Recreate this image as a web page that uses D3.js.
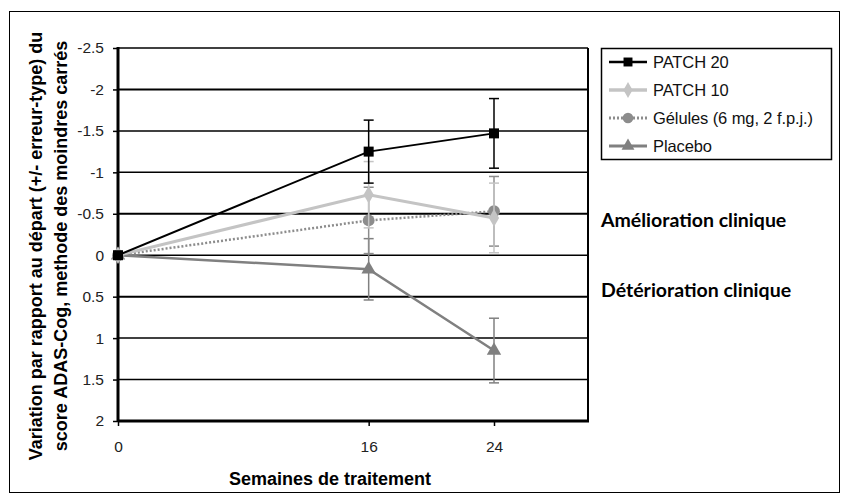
<!DOCTYPE html>
<meta charset="utf-8">
<script src="https://d3js.org/d3.v7.min.js"></script>
<style>
body { margin: 0; background: #fff; }
text { font-family: "Liberation Sans", Arial, sans-serif; }
</style>
<body>
<div id="chart"></div>
<script>
// data
var weeks = [0, 16, 24];
var patch20 = [0, -1.25, -1.47];
var patch20Err = [0, 0.38, 0.42];
var patch10 = [0, -0.73, -0.45];
var patch10Err = [0, 0.4, 0.42];
var gelules = [0, -0.42, -0.53];
var gelulesErr = [0, 0.4, 0.42];
var placebo = [0, 0.17, 1.15];
var placeboErr = [0, 0.37, 0.39];
var yTicks = [-2.5, -2, -1.5, -1, -0.5, 0, 0.5, 1, 1.5, 2];
var xTicks = [0, 16, 24];
var seriesNames = ["PATCH 20", "PATCH 10", "Gélules (6 mg, 2 f.p.j.)", "Placebo"];

var series = [
  {name: seriesNames[0], vals: patch20, err: patch20Err, color: "#000", width: 2, dash: null, mark: d3.symbolSquare, size: 100},
  {name: seriesNames[1], vals: patch10, err: patch10Err, color: "#c4c4c4", width: 3, dash: null, mark: d3.symbolDiamond, size: 90},
  {name: seriesNames[2], vals: gelules, err: gelulesErr, color: "#8c8c8c", width: 2.5, dash: "2,2", mark: d3.symbolCircle, size: 110},
  {name: seriesNames[3], vals: placebo, err: placeboErr, color: "#808080", width: 2.5, dash: null, mark: d3.symbolTriangle, size: 90}
];

var W = 842, H = 500;
var svg = d3.select("#chart").append("svg").attr("width", W).attr("height", H);

// outer frame
svg.append("rect").attr("x", 9.5).attr("y", 11.5).attr("width", 830).attr("height", 481)
  .attr("fill", "none").attr("stroke", "#000").attr("stroke-width", 1);

var pLeft = 118, pRight = 588, pTop = 48, pBottom = 421;
var x = d3.scaleLinear().domain([0, 30]).range([pLeft, pRight]);
var y = d3.scaleLinear().domain([-2.5, 2]).range([pTop, pBottom]);

// grid lines
svg.append("g").selectAll("line").data(yTicks).enter().append("line")
  .attr("x1", pLeft).attr("x2", pRight)
  .attr("y1", function(d) { return y(d); }).attr("y2", function(d) { return y(d); })
  .attr("stroke", "#000")
  .attr("stroke-width", function(d) { return (d == -0.5 || d == 0.5 || d == -2) ? 2 : 1.5; });

// right border
svg.append("line").attr("x1", pRight).attr("x2", pRight).attr("y1", pTop).attr("y2", pBottom)
  .attr("stroke", "#000").attr("stroke-width", 2);

// axes
var yAxis = svg.append("g").attr("transform", "translate(" + pLeft + ",0)")
  .call(d3.axisLeft(y).tickValues(yTicks).tickSize(5).tickPadding(9).tickFormat(function(d) { return d; }));
var xAxis = svg.append("g").attr("transform", "translate(0," + pBottom + ")")
  .call(d3.axisBottom(x).tickValues(xTicks).tickSize(5).tickPadding(15));
[yAxis, xAxis].forEach(function(a) {
  a.select(".domain").attr("stroke", "#000").attr("stroke-width", 3);
  a.selectAll(".tick line").attr("stroke", "#000").attr("stroke-width", 1.5);
  a.selectAll(".tick text").attr("fill", "#222").style("font-size", "15.5px")
    .style("font-family", "'Liberation Sans', Arial, sans-serif");
});
yAxis.select(".domain").attr("d", "M0," + (pTop - 1) + "V" + (pBottom + 1));
xAxis.select(".domain").attr("d", "M" + pLeft + ",0H" + (pRight + 1));

// series
var line = d3.line().x(function(d, i) { return x(weeks[i]); }).y(function(d) { return y(d); });
series.slice().reverse().forEach(function(s) {
  var g = svg.append("g");
  // error bars
  s.vals.forEach(function(v, i) {
    if (!s.err[i]) return;
    var cx = x(weeks[i]);
    var y1 = y(v - s.err[i]), y2 = y(v + s.err[i]);
    g.append("line").attr("x1", cx).attr("x2", cx).attr("y1", y1).attr("y2", y2)
      .attr("stroke", s.color).attr("stroke-width", 1.5);
    [y1, y2].forEach(function(yy) {
      g.append("line").attr("x1", cx - 5).attr("x2", cx + 5).attr("y1", yy).attr("y2", yy)
        .attr("stroke", s.color).attr("stroke-width", 1.5);
    });
  });
  g.append("path").datum(s.vals).attr("d", line).attr("fill", "none")
    .attr("stroke", s.color).attr("stroke-width", s.width)
    .attr("stroke-dasharray", s.dash);
  g.selectAll("path.m").data(s.vals).enter().append("path").attr("class", "m")
    .attr("transform", function(d, i) { return "translate(" + x(weeks[i]) + "," + y(d) + ")"; })
    .attr("d", d3.symbol().type(s.mark).size(s.size))
    .attr("fill", s.color);
});

// legend
var lg = svg.append("g");
lg.append("rect").attr("x", 601.5).attr("y", 48.5).attr("width", 230).attr("height", 111)
  .attr("fill", "#fff").attr("stroke", "#000").attr("stroke-width", 1.5);
series.forEach(function(s, i) {
  var ly = 62 + i * 28;
  lg.append("line").attr("x1", 609).attr("x2", 647).attr("y1", ly).attr("y2", ly)
    .attr("stroke", s.color).attr("stroke-width", s.width + 0.5).attr("stroke-dasharray", s.dash);
  lg.append("path").attr("transform", "translate(628," + ly + ")")
    .attr("d", d3.symbol().type(s.mark).size(s.size * 0.8)).attr("fill", s.color);
  lg.append("text").attr("x", 653).attr("y", ly + 6).text(s.name)
    .style("font-size", "16.5px").attr("fill", "#111").attr("letter-spacing", "-0.1");
});

// annotations
svg.append("text").attr("x", 601).attr("y", 227).text("Amélioration clinique")
  .style("font-family", "Lato, 'Open Sans', sans-serif").style("font-weight", "bold").style("font-size", "19.5px");
svg.append("text").attr("x", 601).attr("y", 297).text("Détérioration clinique")
  .style("font-family", "Lato, 'Open Sans', sans-serif").style("font-weight", "bold").style("font-size", "19.5px");

// axis titles
var yt = svg.append("text").attr("transform", "translate(42,246) rotate(-90)")
  .attr("text-anchor", "middle").style("font-weight", "bold").style("font-size", "18px");
yt.append("tspan").attr("x", 0).attr("dy", 0).text("Variation par rapport au départ (+/- erreur-type) du");
yt.append("tspan").attr("x", 0).attr("dy", 25).text("score ADAS-Cog, methode des moindres carrés");

svg.append("text").attr("x", 330).attr("y", 485).attr("text-anchor", "middle")
  .style("font-weight", "bold").style("font-size", "18px").text("Semaines de traitement");
</script>
</body>
